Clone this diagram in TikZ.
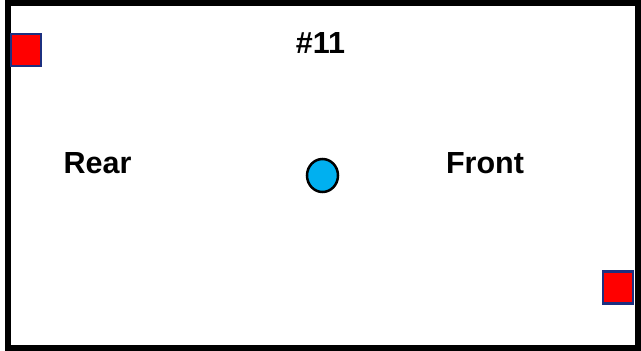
\documentclass[tikz,border=0pt]{standalone}
\usepackage{fontspec}
\setmainfont{Liberation Sans}
\usetikzlibrary{shapes.geometric}
\definecolor{marker}{RGB}{255,0,0}
\definecolor{markeredge}{RGB}{28,48,128}
\definecolor{centre}{RGB}{0,176,240}
\begin{document}
\begin{tikzpicture}[x=1pt,y=-1pt,
  lbl/.style={font=\fontsize{30.5}{33}\selectfont\bfseries, inner sep=0pt},
  sq/.style={draw=markeredge, fill=marker, line width=2.5pt, minimum width=30pt, minimum height=32pt, inner sep=0pt},
]
  \useasboundingbox (0,0) rectangle (641,351);
  \draw[line width=6pt] (8,3) rectangle (638,348);
  \node[sq] (tl) at (26,50) {};
  \node[sq] (br) at (618,287.5) {};
  \node[draw=black, fill=centre, line width=2.5pt, ellipse, minimum width=31pt, minimum height=33pt, inner sep=0pt] (dot) at (322.5,175.5) {};
  \node[lbl] (num) at (320.5,43) {\#11};
  \node[lbl] (rear) at (97.5,163) {Rear};
  \node[lbl] (front) at (485,163) {Front};
\end{tikzpicture}
\end{document}
